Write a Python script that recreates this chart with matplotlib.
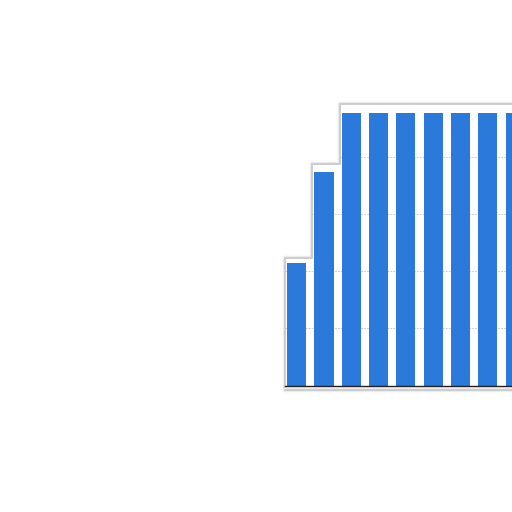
import numpy as np
import matplotlib.pyplot as plt
import matplotlib.patheffects as pe

# bar heights (gridline spacing = 1)
positions = np.arange(9)
values = [2.15, 3.74, 4.76, 4.76, 4.76, 4.76, 4.76, 4.76, 4.76]
grid_levels = [1, 2, 3, 4]

bar_color = '#2c79dc'

fig = plt.figure(figsize=(5.12, 5.12), dpi=100)
ax = fig.add_axes([0.5566, 0.2467, 0.4434, 0.5591])

# soft halo around the bar silhouette
vals = np.array(values)
edges = np.r_[positions - 0.43, positions[-1] + 0.43]
halo_fx = [pe.Stroke(linewidth=3.2, foreground='#ececec'), pe.Normal()]
halo = ax.stairs(vals * 1.035, edges, baseline=-0.08, fill=True,
                 facecolor='white', edgecolor='#cdcdcd', linewidth=1.4,
                 joinstyle='round', zorder=0.3, clip_on=False,
                 path_effects=halo_fx)
ax.plot([edges[0], edges[-1]], [-0.08, -0.08], color='#cdcdcd', lw=1.4,
        solid_capstyle='round', zorder=0.3, clip_on=False,
        path_effects=halo_fx)

ax.bar(positions, values, width=0.7, color=bar_color, zorder=2)

ax.set_xlim(-0.43, 7.885)
ax.set_ylim(0, 5)
ax.set_yticks(grid_levels)
ax.set_axisbelow(True)
ax.grid(axis='y', color='#c4c4c4', linestyle=(0, (2, 1.5)), linewidth=0.6)
for gl in ax.get_ygridlines():
    gl.set_clip_path(halo)

for side in ['top', 'right', 'left']:
    ax.spines[side].set_visible(False)
ax.spines['bottom'].set_color('#222222')
ax.spines['bottom'].set_linewidth(1.0)
ax.spines['bottom'].set_zorder(3)
ax.tick_params(left=False, bottom=False, labelleft=False, labelbottom=False)
ax.patch.set_alpha(0)

fig.savefig('out.png', dpi=100)
